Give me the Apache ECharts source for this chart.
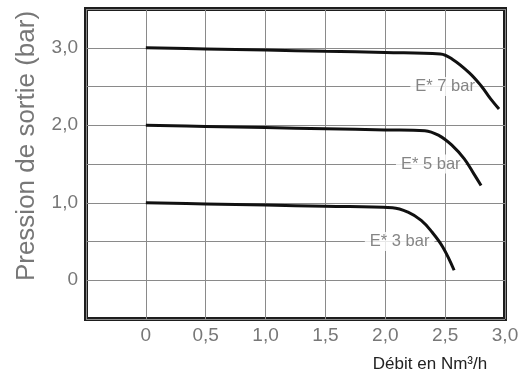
<!DOCTYPE html>
<html>
<head>
<meta charset="utf-8">
<script src="https://cdn.jsdelivr.net/npm/echarts@6/dist/echarts.min.js"></script>
<style>
html,body{margin:0;padding:0;background:#fff;}
#c{width:529px;height:376px;}
</style>
</head>
<body>
<div id="c"></div>
<script>
// Data: [débit (Nm3/h), pression (bar)]
const curve7bar = [[0,3.0],[0.5,2.985],[1.0,2.97],[1.5,2.955],[2.0,2.94],[2.46,2.92],[2.56,2.853],[2.70,2.68],[2.80,2.51],[2.88,2.34],[2.95,2.21]];
const curve5bar = [[0,2.0],[0.5,1.985],[1.0,1.97],[1.5,1.955],[2.0,1.94],[2.33,1.93],[2.45,1.867],[2.56,1.738],[2.66,1.567],[2.74,1.373],[2.80,1.223]];
const curve3bar = [[0,1.0],[0.5,0.985],[1.0,0.97],[1.5,0.955],[2.06,0.936],[2.19,0.879],[2.30,0.772],[2.39,0.622],[2.48,0.429],[2.575,0.129]];
const curveNames = ['E* 7 bar','E* 5 bar','E* 3 bar'];
const labelCoords = [[2.5,2.5],[2.38,1.5],[2.12,0.5]];
const xTicks = [-0.5,0,0.5,1.0,1.5,2.0,2.5,3.0];
const yTicks = [-0.5,0,0.5,1.0,1.5,2.0,2.5,3.0,3.5];
const xTitle = 'Débit en Nm³/h';
const yTitle = 'Pression de sortie (bar)';

const fmt = v => {
  if (Math.abs(v) < 1e-9) return '0';
  return v.toFixed(1).replace('.', ',');
};

const chart = echarts.init(document.getElementById('c'), null, {renderer:'canvas'});
const curves = [curve7bar, curve5bar, curve3bar];
const FONT = 'Liberation Sans, Arial, sans-serif';

const lineSeries = curves.map(d => ({
  type:'line', data:d, smooth:0.4, showSymbol:false, symbol:'none',
  lineStyle:{color:'#111',width:3}, z:5, silent:true
}));

const labelSeries = {
  type:'scatter', z:1, symbolSize:0, silent:true,
  data: labelCoords.map((c,i) => ({value:c, name:curveNames[i]})),
  label:{show:true, position:'inside', formatter:p => p.name, color:'#666', fontSize:16.5,
    fontFamily:FONT, backgroundColor:'#fff', padding:[1,5,1,5]}
};

chart.setOption({
  animation:false,
  backgroundColor:'#fff',
  grid:{left:86,right:24,top:9,bottom:57,show:true,borderWidth:4,borderColor:'#1e1e1e',backgroundColor:'transparent'},
  xAxis:{
    type:'value', min:xTicks[0], max:xTicks[xTicks.length-1], interval:0.5,
    axisLine:{show:false}, axisTick:{show:false},
    splitLine:{show:true,lineStyle:{color:'#8a8a8a',width:1}},
    axisLabel:{color:'#777',fontSize:19,fontFamily:FONT,margin:7,
      formatter:v => v < 0 ? '' : fmt(v)}
  },
  yAxis:{
    type:'value', min:yTicks[0], max:yTicks[yTicks.length-1], interval:0.5,
    axisLine:{show:false}, axisTick:{show:false},
    splitLine:{show:true,lineStyle:{color:'#8a8a8a',width:1}},
    axisLabel:{color:'#777',fontSize:19,fontFamily:FONT,margin:8,
      formatter:v => (Math.abs(v - Math.round(v)) < 1e-9 && v >= 0) ? fmt(v) : ''}
  },
  graphic:[
    {type:'text', x:27, y:146, rotation:Math.PI/2,
      style:{text:yTitle, fill:'#777', fontSize:26, fontFamily:FONT, textAlign:'center', textVerticalAlign:'middle'}},
    {type:'text', x:430, y:364,
      style:{text:xTitle, fill:'#222', fontSize:17, fontFamily:FONT, textAlign:'center', textVerticalAlign:'middle'}}
  ],
  series: [labelSeries].concat(lineSeries)
});
</script>
</body>
</html>
